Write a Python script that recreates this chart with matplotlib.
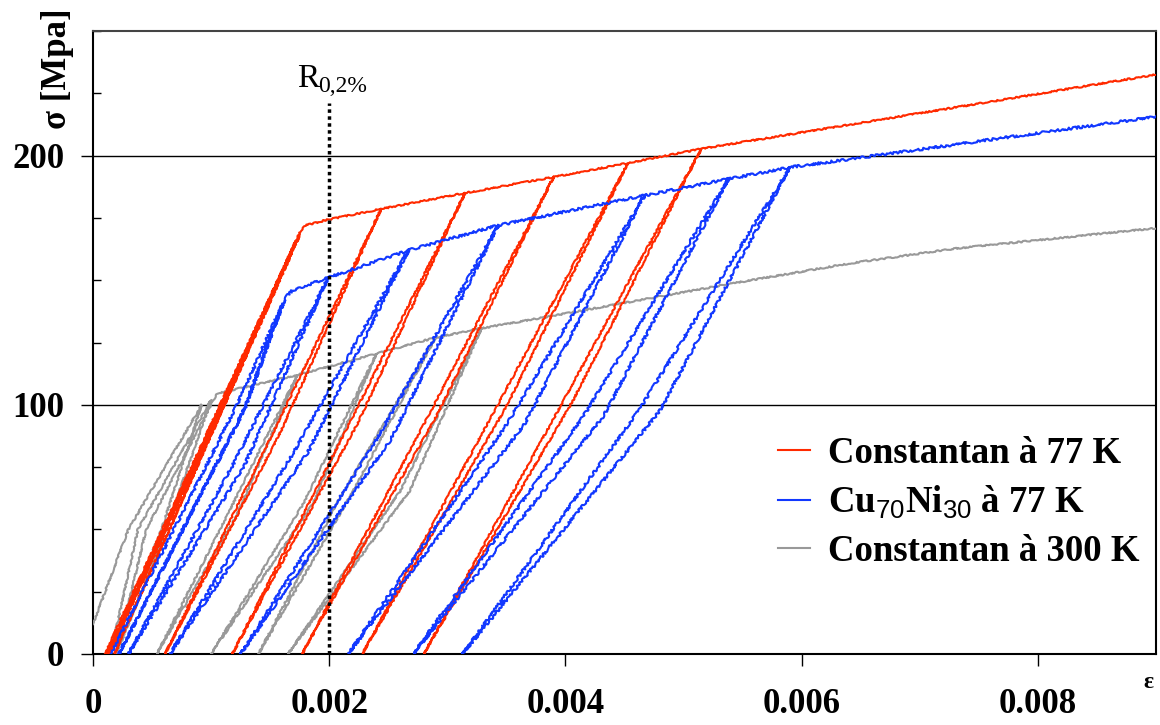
import matplotlib
matplotlib.use("Agg")
import matplotlib.pyplot as plt
from matplotlib.lines import Line2D
from matplotlib.ticker import MultipleLocator

plt.rcParams['font.family'] = ['Liberation Serif', 'DejaVu Serif']
plt.rcParams['mathtext.fontset'] = 'custom'
plt.rcParams['mathtext.rm'] = 'Liberation Sans'

# ---- donnees (deformation, contrainte en MPa) ----
# Constantan a 77 K
red_init_eps = [0.00010, 0.00172, 0.00014, 0.00167, 0.00018, 0.00175, 0.00012, 0.00176]
red_init_sig = [0, 166, 0, 160, 0, 168, 0, 170]
red_knee_eps = [0.00180, 0.00199]
red_knee_sig = [172, 174.3]
red_peak_eps = [0.00244, 0.00315, 0.00390, 0.00453, 0.00515]
red_peak_sig = [178.6, 185.0, 191.4, 197.0, 202.7]
red_mid_eps = [0.00153, 0.00217, 0.00284, 0.00341, 0.00398]
red_zero_eps = [0.00061, 0.00118, 0.00177, 0.00228, 0.00280]
red_width = [0.00006, 0.00007, 0.00007, 0.00008, 0.00008]
red_end_eps = [0.00900]
red_end_sig = [232.5]

# Cu70Ni30 a 77 K
blue_init_eps = [0.00015, 0.00122, 0.00160, 0.00130, 0.00022, 0.00125, 0.00163]
blue_init_sig = [0, 100, 140, 100, 0, 95, 143]
blue_knee_eps = [0.00169]
blue_knee_sig = [146]
blue_peak_eps = [0.00199, 0.00267, 0.00343, 0.00467, 0.00538, 0.00590]
blue_peak_sig = [151.0, 162.0, 172.0, 184.0, 190.6, 195.3]
blue_mid_eps = [0.00118, 0.00170, 0.00240, 0.00350, 0.00415, 0.00462]
blue_zero_eps = [0.00030, 0.00065, 0.00125, 0.00216, 0.00271, 0.00313]
blue_width = [0.00010, 0.00012, 0.00012, 0.00015, 0.00017, 0.00018]
blue_end_eps = [0.00641, 0.00900]
blue_end_sig = [198.6, 215.6]

# Constantan a 300 K
gray_init_eps = [0.0, 0.00030, 0.00092, 0.00058, 0.00015, 0.00038, 0.00100,
                 0.00062, 0.00020, 0.00045, 0.00105]
gray_init_sig = [12, 50, 100, 50, 0, 50, 102, 50, 0, 50, 104.6]
gray_knee_eps = [0.00135]
gray_knee_sig = [107.8]
gray_peak_eps = [0.00173, 0.00240, 0.00290, 0.00329]
gray_peak_sig = [112.0, 120.5, 127.0, 130.7]
gray_mid_eps = [0.00114, 0.00178, 0.00210, 0.00260]
gray_zero_eps = [0.00054, 0.00100, 0.00140, 0.00165]
gray_width = [0.00008, 0.00008, 0.00008, 0.00008]
gray_end_eps = [0.00400, 0.00540, 0.00640, 0.00730, 0.00900]
gray_end_sig = [136.6, 148.6, 156.7, 162.7, 170.9]

labels = ['Constantan à 77 K', r'Cu$_\mathrm{70}$Ni$_\mathrm{30}$ à 77 K', 'Constantan à 300 K']
colors = ['#ff2a00', '#1238ff', '#999999']

r02_eps = 0.002
r02_top = 221

x_ticks = [0, 0.002, 0.004, 0.006, 0.008]
x_ticklabels = ['0', '0.002', '0.004', '0.006', '0.008']
y_ticks = [0, 100, 200]


def build_path(init_eps, init_sig, knee_eps, knee_sig, pk_eps, pk_sig,
               mid_eps, zero_eps, width, end_eps, end_sig):
    xs = list(init_eps) + list(knee_eps)
    ys = list(init_sig) + list(knee_sig)
    for e, s, m, z, w in zip(pk_eps, pk_sig, mid_eps, zero_eps, width):
        # dechargement puis rechargement
        xs += [e, m, z, m + w, e]
        ys += [s, s / 2, 0, s / 2, s]
    xs += list(end_eps)
    ys += list(end_sig)
    return xs, ys


fig = plt.figure(figsize=(11.6, 7.25), dpi=100)
ax = fig.add_axes([93 / 1160, 71 / 725, 1063 / 1160, 623 / 725])

gx, gy = build_path(gray_init_eps, gray_init_sig, gray_knee_eps, gray_knee_sig,
                    gray_peak_eps, gray_peak_sig, gray_mid_eps, gray_zero_eps,
                    gray_width, gray_end_eps, gray_end_sig)
rx, ry = build_path(red_init_eps, red_init_sig, red_knee_eps, red_knee_sig,
                    red_peak_eps, red_peak_sig, red_mid_eps, red_zero_eps,
                    red_width, red_end_eps, red_end_sig)
bx, by = build_path(blue_init_eps, blue_init_sig, blue_knee_eps, blue_knee_sig,
                    blue_peak_eps, blue_peak_sig, blue_mid_eps, blue_zero_eps,
                    blue_width, blue_end_eps, blue_end_sig)

l_gray, = ax.plot(gx, gy, color=colors[2], lw=1.5, zorder=3)
l_red, = ax.plot(rx, ry, color=colors[0], lw=1.5, zorder=4)
l_blue, = ax.plot(bx, by, color=colors[1], lw=1.5, zorder=5)
l_gray.set_sketch_params(0.7, 5, 10)
l_red.set_sketch_params(0.7, 5, 10)
l_blue.set_sketch_params(1.2, 5, 10)

# ligne R0,2%
ax.plot([r02_eps, r02_eps], [0, r02_top], color='black', lw=2.5,
        ls=(0, (1, 1)), zorder=6, clip_on=False)
fig.text(297 / 1160, 1 - 87 / 725, 'R', fontsize=24, va='baseline', ha='left')
fig.text(318 / 1160, 1 - 92 / 725, '0,2%', fontsize=17, va='baseline', ha='left')

ax.set_xlim(0, 0.009)
ax.set_ylim(0, 250)
ax.set_xticks(x_ticks)
ax.set_xticklabels(x_ticklabels)
ax.set_yticks(y_ticks)
ax.yaxis.set_minor_locator(MultipleLocator(25))
ax.yaxis.grid(True, which='major', color='black', lw=1)
ax.set_axisbelow(True)

ax.tick_params(axis='both', which='major', direction='out', length=8.6,
               width=1, labelsize=25, color='black')
ax.tick_params(axis='x', which='major', pad=16)
ax.tick_params(axis='y', which='major', pad=12)
ax.tick_params(axis='y', which='minor', direction='in', length=6, width=1)
for lab in ax.get_xticklabels() + ax.get_yticklabels():
    lab.set_fontweight('bold')

for side in ['left', 'bottom', 'right']:
    ax.spines[side].set_linewidth(1.5)
    ax.spines[side].set_color('black')
ax.spines['top'].set_linewidth(1.5)
ax.spines['top'].set_color('#444444')

fig.text(57 / 1160, 1 - 69 / 725, 'σ [Mpa]', rotation=90, fontsize=25,
         fontweight='bold', ha='center', va='center')
fig.text(1148 / 1160, 1 - 682 / 725, 'ε', fontsize=17, fontweight='bold',
         ha='center', va='center')

handles = [Line2D([], [], color=c, lw=1.5) for c in colors]
leg = fig.legend(handles, labels, loc='upper left',
                 bbox_to_anchor=(778 / 1160, 1 - 436 / 725),
                 frameon=False, prop={'size': 26.5, 'weight': 'bold'},
                 handlelength=0.87, handletextpad=0.49, labelspacing=0.35,
                 borderpad=0, borderaxespad=0)

plt.savefig('out.png', dpi=100)
